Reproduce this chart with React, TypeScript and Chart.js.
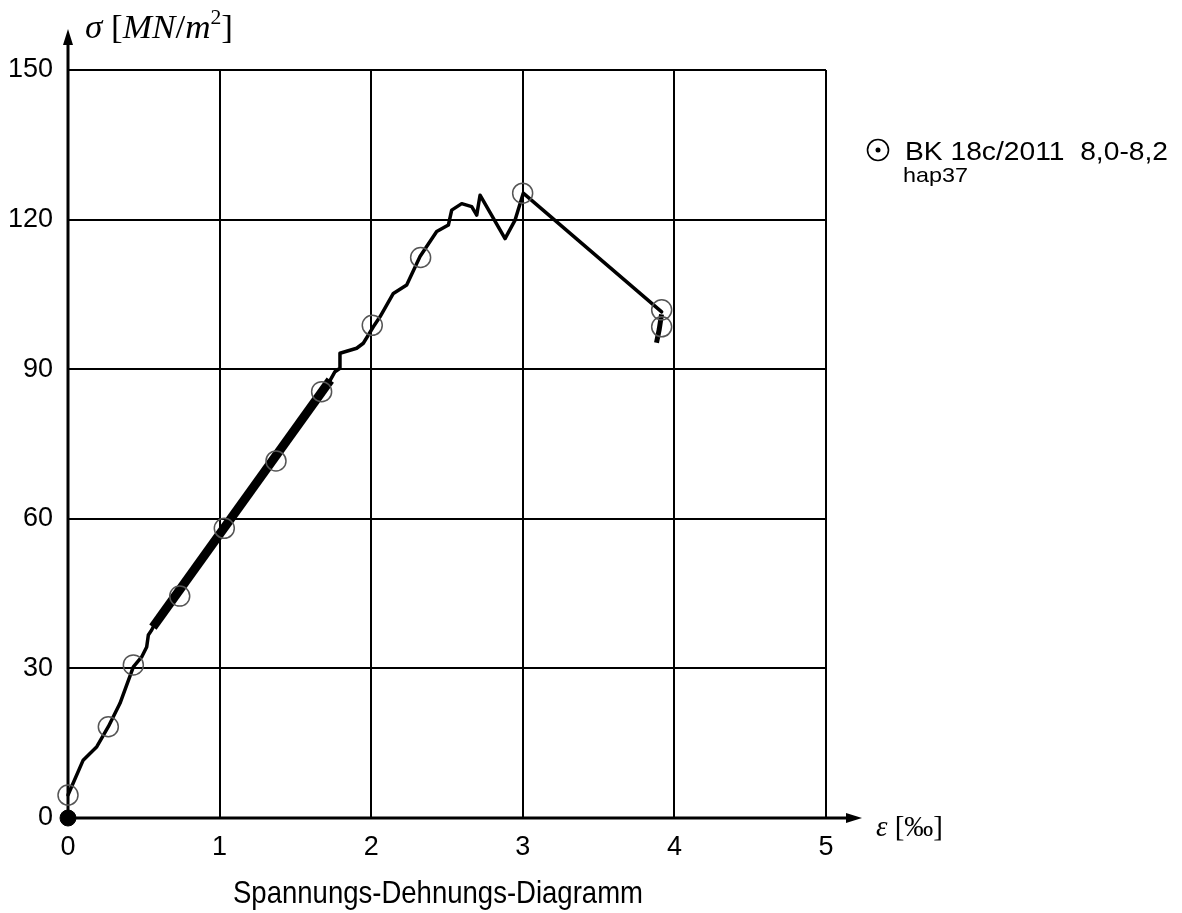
import React, { useEffect, useRef } from "react";
import { Chart, registerables } from "chart.js";

Chart.register(...registerables);

// Measured stress-strain curve
const curveStrain = [0, 0.1, 0.19, 0.266, 0.343, 0.431, 0.486, 0.519, 0.53, 0.552, 0.57, 1.0, 1.4, 1.73, 1.761, 1.794, 1.794, 1.904, 1.948, 2.014, 2.058, 2.146, 2.234, 2.322, 2.432, 2.509, 2.531, 2.597, 2.663, 2.696, 2.718, 2.883, 2.949, 3.003, 3.916];
const curveStress = [4.6, 11.6, 14.3, 18.3, 23.0, 30.3, 32.3, 34.3, 36.7, 37.7, 38.8, 57.5, 73.5, 87.8, 89.5, 90.2, 93.2, 94.2, 95.2, 98.5, 100.5, 105.2, 106.9, 112.6, 117.6, 118.9, 121.9, 123.2, 122.6, 120.9, 124.9, 116.2, 119.9, 125.3, 101.5];

// Regression (thick) segment
const fitStrain = [0.56, 1.73];
const fitStress = [38.3, 87.8];

// Thick tail at the end
const tailStrain = [3.915, 3.9, 3.882];
const tailStress = [101.0, 98.0, 95.3];

// Circle markers
const markerStrain = [0, 0.266, 0.431, 0.737, 1.031, 1.372, 1.673, 2.007, 2.326, 2.999, 3.916, 3.916];
const markerStress = [4.6, 18.3, 30.7, 44.5, 58.1, 71.6, 85.5, 98.8, 112.4, 125.3, 101.9, 98.5];

// Axis ticks
const xTicks = [0, 1, 2, 3, 4, 5];
const yTicks = [0, 30, 60, 90, 120, 150];

const title = "Spannungs-Dehnungs-Diagramm";
const legendLabel = "BK 18c/2011  8,0-8,2";
const legendSub = "hap37";

const toPts = (xs: number[], ys: number[]) => xs.map((x, i) => ({ x, y: ys[i] }));

function drawScaled(ctx: CanvasRenderingContext2D, text: string, x: number, y: number, font: string, targetW?: number) {
  ctx.font = font;
  const w = ctx.measureText(text).width;
  const s = targetW ? targetW / w : 1;
  ctx.save();
  ctx.translate(x, y);
  ctx.scale(s, 1);
  ctx.fillText(text, 0, 0);
  ctx.restore();
}

type Piece = { t: string; font: string; dy?: number };
function drawPieces(ctx: CanvasRenderingContext2D, pieces: Piece[], x: number, y: number, targetW: number) {
  let total = 0;
  const widths = pieces.map((p) => {
    ctx.font = p.font;
    const w = ctx.measureText(p.t).width;
    total += w;
    return w;
  });
  const s = targetW / total;
  ctx.save();
  ctx.translate(x, y);
  ctx.scale(s, 1);
  let cx = 0;
  pieces.forEach((p, i) => {
    ctx.font = p.font;
    ctx.fillText(p.t, cx, p.dy || 0);
    cx += widths[i];
  });
  ctx.restore();
}

const decorPlugin = {
  id: "decor",
  beforeDatasetsDraw(chart: any) {
    const ctx: CanvasRenderingContext2D = chart.ctx;
    const xs = chart.scales.x;
    const ys = chart.scales.y;
    const x0 = xs.getPixelForValue(0);
    const y0 = ys.getPixelForValue(0);
    ctx.save();
    ctx.strokeStyle = "#000";
    ctx.fillStyle = "#000";
    ctx.lineWidth = 3;
    // y axis
    ctx.beginPath();
    ctx.moveTo(x0, y0);
    ctx.lineTo(x0, 40);
    ctx.stroke();
    ctx.beginPath();
    ctx.moveTo(x0, 29);
    ctx.lineTo(x0 - 5, 45);
    ctx.lineTo(x0 + 5, 45);
    ctx.closePath();
    ctx.fill();
    // x axis
    ctx.beginPath();
    ctx.moveTo(x0, y0);
    ctx.lineTo(850, y0);
    ctx.stroke();
    ctx.beginPath();
    ctx.moveTo(862, y0);
    ctx.lineTo(846, y0 - 5);
    ctx.lineTo(846, y0 + 5);
    ctx.closePath();
    ctx.fill();
    ctx.restore();
  },
  afterDraw(chart: any) {
    const ctx: CanvasRenderingContext2D = chart.ctx;
    ctx.save();
    ctx.fillStyle = "#000";
    ctx.textBaseline = "alphabetic";
    ctx.textAlign = "left";
    const serif = '"Liberation Serif", "DejaVu Serif", serif';
    // y axis title
    drawPieces(
      ctx,
      [
        { t: "σ", font: `italic 34px ${serif}` },
        { t: " [", font: `34px ${serif}` },
        { t: "MN", font: `italic 34px ${serif}` },
        { t: "/", font: `34px ${serif}` },
        { t: "m", font: `italic 34px ${serif}` },
        { t: "2", font: `21px ${serif}`, dy: -14 },
        { t: "]", font: `34px ${serif}` },
      ],
      85,
      38,
      148
    );
    // x axis title
    drawPieces(
      ctx,
      [
        { t: "ε", font: `italic 29px ${serif}` },
        { t: " [‰]", font: `29px ${serif}` },
      ],
      876,
      836,
      67
    );
    // chart title
    drawScaled(ctx, title, 233, 903, '32px "Liberation Sans", Arial, sans-serif', 410);
    // legend
    ctx.strokeStyle = "#000";
    ctx.lineWidth = 1.6;
    ctx.beginPath();
    ctx.arc(878, 150, 10.5, 0, Math.PI * 2);
    ctx.stroke();
    ctx.beginPath();
    ctx.arc(878, 150, 2.5, 0, Math.PI * 2);
    ctx.fill();
    drawScaled(ctx, legendLabel, 905, 160, '25px "Liberation Sans", Arial, sans-serif', 263);
    drawScaled(ctx, legendSub, 903, 182, '21px "Liberation Sans", Arial, sans-serif', 65);
    ctx.restore();
  },
};

export default function App() {
  const ref = useRef<HTMLCanvasElement | null>(null);
  useEffect(() => {
    if (!ref.current) return;
    const tickFont = { family: '"Liberation Sans", Arial, sans-serif', size: 27 };
    const chart = new Chart(ref.current, {
      type: "scatter",
      data: {
        datasets: [
          {
            label: "origin",
            data: [{ x: 0, y: 0 }],
            pointRadius: 8,
            pointBackgroundColor: "#000",
            pointBorderColor: "#000",
            showLine: false,
            clip: false,
          },
          {
            label: "markers",
            data: toPts(markerStrain, markerStress),
            pointStyle: "circle",
            pointRadius: 10,
            pointBackgroundColor: "rgba(0,0,0,0)",
            pointBorderColor: "#555",
            pointBorderWidth: 1.5,
            showLine: false,
            clip: false,
          },
          {
            label: "tail",
            data: toPts(tailStrain, tailStress),
            showLine: true,
            borderColor: "#000",
            borderWidth: 5,
            pointRadius: 0,
            borderCapStyle: "butt",
          },
          {
            label: "fit",
            data: toPts(fitStrain, fitStress),
            showLine: true,
            borderColor: "#000",
            borderWidth: 9,
            pointRadius: 0,
            borderCapStyle: "butt",
          },
          {
            label: "curve",
            data: toPts(curveStrain, curveStress),
            showLine: true,
            borderColor: "#000",
            borderWidth: 3.5,
            pointRadius: 0,
            tension: 0,
            borderJoinStyle: "round",
            borderCapStyle: "round",
            clip: false,
          },
        ],
      },
      options: {
        animation: false,
        responsive: false,
        devicePixelRatio: 1,
        layout: { padding: { left: 0, right: 356, top: 70, bottom: 0 } },
        plugins: { legend: { display: false }, tooltip: { enabled: false }, title: { display: false } },
        scales: {
          x: {
            type: "linear",
            min: 0,
            max: 5,
            afterBuildTicks: (scale: any) => {
              scale.ticks = xTicks.map((v) => ({ value: v }));
            },
            afterFit: (scale: any) => {
              scale.height = 95;
            },
            ticks: { color: "#000", font: tickFont, padding: 13, maxRotation: 0 },
            grid: { color: "#000", lineWidth: 2, drawTicks: false },
            border: { display: false },
          },
          y: {
            type: "linear",
            min: 0,
            max: 150,
            afterBuildTicks: (scale: any) => {
              scale.ticks = yTicks.map((v) => ({ value: v }));
            },
            afterFit: (scale: any) => {
              scale.width = 68;
            },
            ticks: { color: "#000", font: tickFont, padding: 15 },
            grid: { color: "#000", lineWidth: 2, drawTicks: false },
            border: { display: false },
          },
        },
      } as any,
      plugins: [decorPlugin],
    });
    return () => chart.destroy();
  }, []);
  return (
    <div style={{ position: "absolute", left: 0, top: 0, width: 1182, height: 913, background: "#fff" }}>
      <canvas ref={ref} width={1182} height={913} />
    </div>
  );
}
